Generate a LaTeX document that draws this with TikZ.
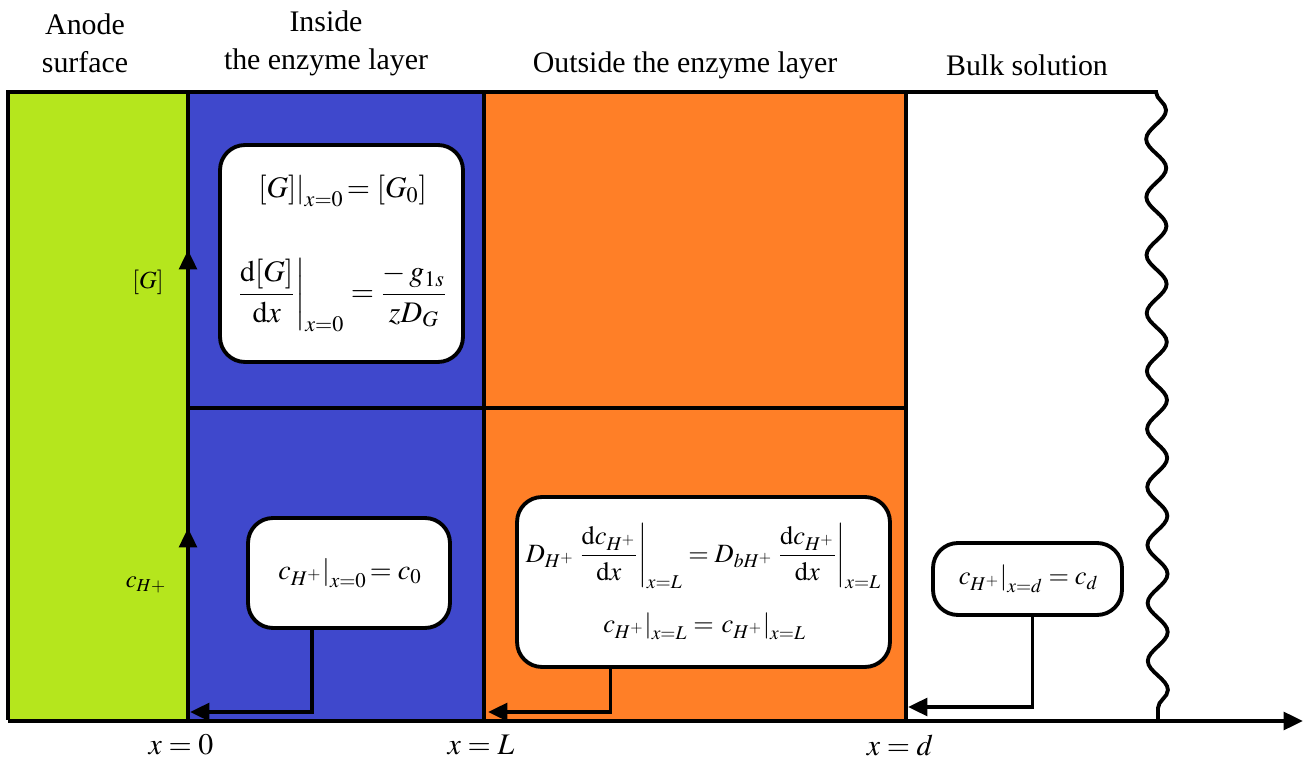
\documentclass[tikz,border=0pt]{standalone}
\usepackage{amsmath}
\usepackage{mathptmx}
\usepackage{fontspec}
\setmainfont{Liberation Serif}
\usetikzlibrary{arrows.meta,positioning,calc,decorations.pathmorphing}
\definecolor{anodegreen}{RGB}{181,230,29}
\definecolor{enzymeblue}{RGB}{63,72,204}
\definecolor{outerorange}{RGB}{255,127,39}

\begin{document}
\begin{tikzpicture}[
      x=0.02cm, y=-0.02cm,
      frame/.style={line width=2.2pt},
      bcbox/.style={draw, fill=white, line width=2.2pt, rounded corners=0.5cm,
                    inner sep=0pt, align=center, font=\fontsize{15}{18}\selectfont},
      feed/.style={line width=2.2pt, -{Triangle[length=11pt,width=10pt]}},
      head/.style={font=\fontsize{17}{21.5}\selectfont, align=center},
      lab/.style={font=\fontsize{14}{17}\selectfont}
    ]
      \useasboundingbox (0,0) rectangle (1312,759);

      % regions
      \fill[anodegreen] (8,92) rectangle (188,720);
      \fill[enzymeblue] (188,92) rectangle (484,720);
      \fill[outerorange] (484,92) rectangle (906,720);
      \draw[frame] (1158,92) -- (8,92) -- (8,720);
      \draw[frame] (188,92) -- (188,720);
      \draw[frame] (484,92) -- (484,720);
      \draw[frame] (906,92) -- (906,720);
      \draw[frame] (188,408) -- (906,408);
      \draw[frame, decorate, decoration={snake, segment length=1.16cm, amplitude=0.2cm}]
        (1156,92) -- (1158,720);

      % headers
      \node[head] (anode) at (85,43) {Anode\\surface};
      \node[head] (inside) at (326,43) {Inside\\the enzyme layer};
      \node[head] (outside) at (685,65) {Outside the enzyme layer};
      \node[head] (bulk) at (1027,65) {Bulk solution};

      % concentration axes
      \draw[feed] (188,288) -- (188,250);
      \draw[feed] (188,568) -- (188,528);
      \node[lab] (glab) at (148,282) {$[G]$};
      \node[lab] (clab) at (146,585) {$c_{H+}$};

      % x axis
      \draw[feed] (8,721) -- (1303,721);
      \node[lab, font=\fontsize{17}{20}\selectfont] (xzero) at (181,745) {$x=0$};
      \node[lab, font=\fontsize{17}{20}\selectfont] (xL) at (481,745) {$x=L$};
      \node[lab, font=\fontsize{17}{20}\selectfont] (xd) at (900,745) {$x=d$};
      \coordinate (tzero) at (190,712);
      \coordinate (tL) at (488,712);
      \coordinate (td) at (908,707);

      % boundary conditions
      \node[bcbox, minimum width=4.86cm, minimum height=4.34cm, font=\fontsize{17}{20}\selectfont]
        (gbox) at (341.5,253.5)
        {$\left.[G]\right|_{\boldsymbol{x=0}}\!= [G_0]$\\[1.0cm]
         $\left.\dfrac{\mathrm{d}[G]}{\mathrm{d}x}\right|_{\boldsymbol{x=0}}=\dfrac{-\,g_{1s}}{zD_G}$};
      \node[bcbox, minimum width=4.04cm, minimum height=2.2cm, font=\fontsize{16}{19}\selectfont]
        (cbox) at (349,573)
        {$\left.c_{H^+}\right|_{\boldsymbol{x=0}}\!= c_0$};
      \node[bcbox, minimum width=7.46cm, minimum height=3.4cm] (mbox) at (703.5,582)
        {$D_{H^+}\left.\dfrac{\mathrm{d}c_{H^+}}{\mathrm{d}x}\right|_{x=L}
          = D_{bH^+}\left.\dfrac{\mathrm{d}c_{H^+}}{\mathrm{d}x}\right|_{x=L}$\\[0.45cm]
         $\left.c_{H^+}\right|_{x=L}=\left.c_{H^+}\right|_{x=L}$};
      \node[bcbox, minimum width=3.78cm, minimum height=1.44cm] (dbox) at (1027.5,579)
        {$\left.c_{H^+}\right|_{x=d}=c_d$};

      \draw[feed] ($(cbox.south)+(-37,0)$) |- (tzero);
      \draw[feed] ($(mbox.south)+(-93,0)$) |- (tL);
      \draw[feed] ($(dbox.south)+(5,0)$) |- (td);
    \end{tikzpicture}
\end{document}
